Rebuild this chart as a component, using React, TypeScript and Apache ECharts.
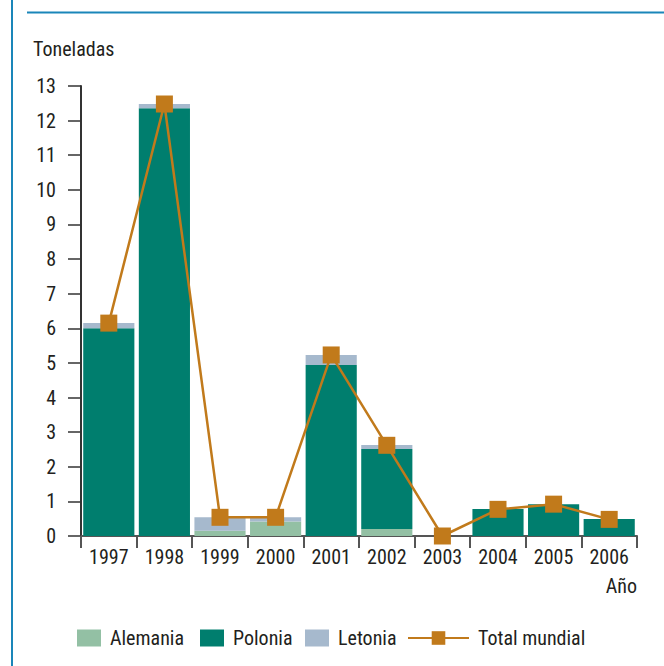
import React, { useEffect, useRef } from "react";
import * as echarts from "echarts";

const years = ["1997", "1998", "1999", "2000", "2001", "2002", "2003", "2004", "2005", "2006"];
const alemania = [0, 0, 0.15, 0.42, 0, 0.2, 0, 0, 0, 0];
const polonia = [6.0, 12.36, 0, 0, 4.94, 2.31, 0, 0.78, 0.92, 0.49];
const letonia = [0.15, 0.12, 0.39, 0.12, 0.29, 0.12, 0, 0, 0, 0];
const totalMundial = [6.15, 12.48, 0.54, 0.54, 5.23, 2.62, 0, 0.77, 0.92, 0.48];
const yTicks = [0, 1, 2, 3, 4, 5, 6, 7, 8, 9, 10, 11, 12, 13];

const FONT = "'Roboto Condensed', 'Liberation Sans Narrow', Roboto, sans-serif";
const FS = 20;
const TXT = "#231f20";
const C_AL = "#93c0a4";
const C_PO = "#007e6e";
const C_LE = "#a6b9cd";
const C_TO = "#c17a1b";
const BLUE = "#1a86b9";

export default function App() {
  const ref = useRef<HTMLDivElement>(null);
  useEffect(() => {
    if (!ref.current) return;
    const chart = echarts.init(ref.current, null, { renderer: "svg" });
    const legendBase = {
      top: 623,
      itemHeight: 17,
      itemWidth: 24,
      itemGap: 8,
      textStyle: { fontFamily: FONT, fontSize: FS, color: TXT, padding: [0, 0, 0, 4] },
      selectedMode: false,
    };
    chart.setOption({
      animation: false,
      textStyle: { fontFamily: FONT },
      grid: { left: 81, right: 27, top: 86, bottom: 130, containLabel: false },
      legend: [
        { ...legendBase, left: 72, data: [{ name: "Alemania", icon: "rect" }] },
        { ...legendBase, left: 195, data: [{ name: "Polonia", icon: "rect" }] },
        { ...legendBase, left: 300, data: [{ name: "Letonia", icon: "rect" }] },
        { ...legendBase, left: 402, itemWidth: 61, data: [{ name: "Total mundial" }] },
      ],
      graphic: [
        { type: "line", shape: { x1: 12, y1: 0, x2: 12, y2: 666 }, style: { stroke: BLUE, lineWidth: 2 } },
        { type: "line", shape: { x1: 27, y1: 12.5, x2: 664, y2: 12.5 }, style: { stroke: BLUE, lineWidth: 2 } },
        { type: "text", left: 33, top: 39, style: { text: "Toneladas", font: `${FS}px ${FONT}`, fill: TXT } },
        { type: "text", right: 27, top: 576, style: { text: "Año", font: `${FS}px ${FONT}`, fill: TXT } },
      ],
      xAxis: {
        type: "category",
        data: years,
        boundaryGap: true,
        axisLine: { show: true, lineStyle: { color: "#555", width: 2 } },
        axisTick: { show: true, alignWithLabel: false, length: 12, lineStyle: { color: "#555", width: 2 } },
        axisLabel: { fontFamily: FONT, fontSize: FS, color: TXT, margin: 11 },
      },
      yAxis: {
        type: "value",
        min: 0,
        max: 13,
        interval: 1,
        splitLine: { show: false },
        axisLine: { show: true, lineStyle: { color: "#333", width: 2 } },
        axisTick: { show: true, length: 13, lineStyle: { color: "#333", width: 1.5 } },
        axisLabel: {
          fontFamily: FONT,
          fontSize: FS,
          color: TXT,
          margin: 25,
          formatter: (v: number) => (yTicks.includes(v) ? String(v) : ""),
        },
      },
      series: [
        { name: "Alemania", type: "bar", stack: "t", data: alemania, itemStyle: { color: C_AL }, barCategoryGap: "8%" },
        { name: "Polonia", type: "bar", stack: "t", data: polonia, itemStyle: { color: C_PO }, barCategoryGap: "8%" },
        { name: "Letonia", type: "bar", stack: "t", data: letonia, itemStyle: { color: C_LE }, barCategoryGap: "8%" },
        {
          name: "Total mundial",
          type: "line",
          data: totalMundial,
          symbol: "rect",
          symbolSize: 17,
          lineStyle: { color: C_TO, width: 2.5 },
          itemStyle: { color: C_TO },
          z: 5,
        },
      ],
    });
    return () => chart.dispose();
  }, []);
  return <div ref={ref} style={{ position: "absolute", left: 0, top: 0, width: 664, height: 666 }} />;
}
